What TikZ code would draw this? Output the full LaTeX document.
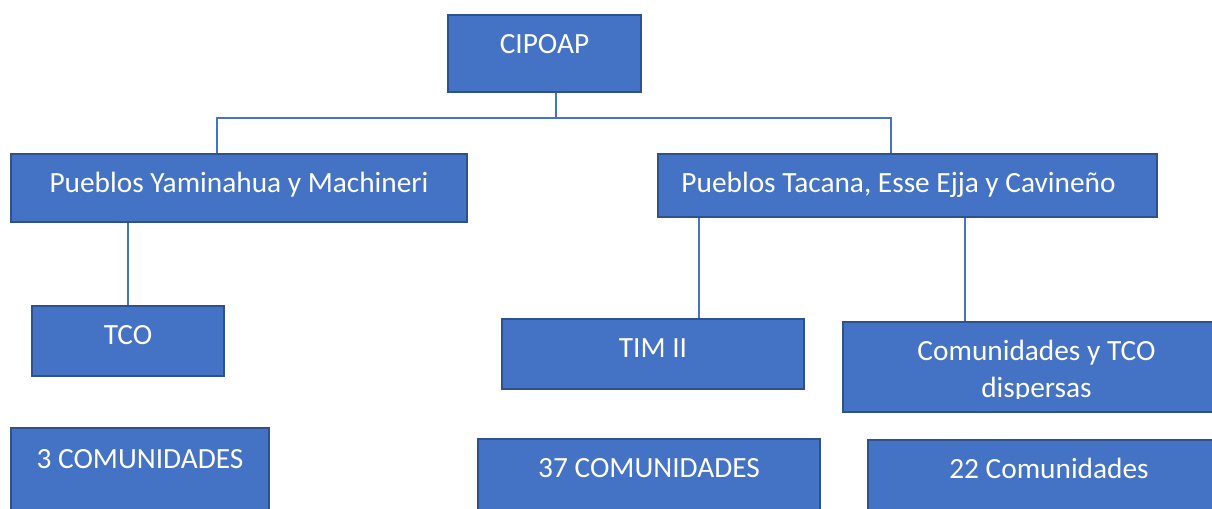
\documentclass[tikz,border=0pt]{standalone}
\usepackage{fontspec}
\setmainfont{Carlito}
\usetikzlibrary{calc}

\definecolor{boxfill}{HTML}{4472C4}
\definecolor{boxedge}{HTML}{2F528F}

\tikzset{
  box/.style={draw=boxedge, fill=boxfill, line width=1.8pt, inner sep=0pt},
  txt/.style={text=white, font=\fontsize{22}{28}\selectfont, inner sep=0pt, align=center, anchor=base},
  link/.style={draw=boxfill, line width=1pt}
}

\begin{document}
\begin{tikzpicture}[x=0.75pt, y=-0.75pt]

    % Fix the page to the size of the picture
    \useasboundingbox (0,0) rectangle (1212,508);
    \clip (0,0) rectangle (1212,508);

    % Top box
    \node[box, minimum width=144.75pt, minimum height=57.75pt] (cipoap) at (544.5,53.5) {};

    % Second row: the two groups of pueblos
    \node[box, minimum width=342pt, minimum height=51pt] (yami) at (239,188) {};
    \node[box, minimum width=374.25pt, minimum height=47.25pt] (tacana) at (907.5,185.5) {};

    % Third row: territories
    \node[box, minimum width=144pt, minimum height=52.5pt] (tco) at (128,341) {};
    \node[box, minimum width=226.5pt, minimum height=52.5pt] (tim) at (653,354) {};
    \node[box, minimum width=290.25pt, minimum height=67.5pt] (disp) at (1036.5,367) {};

    % Bottom row: number of communities (cut by the page edge)
    \node[box, minimum width=193.5pt, minimum height=84pt] (tres) at (140,484) {};
    \node[box, minimum width=256.5pt, minimum height=75.75pt] (treinta) at (649,489.5) {};
    \node[box, minimum width=271.5pt, minimum height=75pt] (veinte) at (1049,490) {};

    % Texts, set near the top edge of each box
    \node[txt] (cipoap-t) at ($(cipoap.north)+(0,40)$) {CIPOAP};
    \node[txt] (yami-t) at ($(yami.north)+(0,40)$) {Pueblos Yaminahua y Machineri};
    \node[txt] (tacana-t) at ($(tacana.north)+(-9,40)$) {Pueblos Tacana, Esse Ejja y Cavineño};
    \node[txt] (tco-t) at ($(tco.north)+(0,40)$) {TCO};
    \node[txt] (tim-t) at ($(tim.north)+(0,40)$) {TIM II};
    \node[txt] (tres-t) at ($(tres.north)+(0,42)$) {3 COMUNIDADES};
    \node[txt] (treinta-t) at ($(treinta.north)+(0,40)$) {37 COMUNIDADES};
    \node[txt] (veinte-t) at ($(veinte.north)+(0,40)$) {22 Comunidades};

    % The second line of this text is cut off by its box
    % (base anchor = baseline of the last line)
    \begin{scope}
        \clip (disp.north west) rectangle ($(disp.north east)+(0,78)$);
        \node[txt] (disp-t) at ($(disp.north)+(0,77)$) {Comunidades y TCO\\dispersas};
    \end{scope}

    % Connectors
    \coordinate (busM) at (556,118);
    \coordinate (busL) at (217,118);
    \coordinate (busR) at (891,118);
    \coordinate (legL) at (699,0);
    \coordinate (legR) at (965,0);

    \draw[link] (cipoap.south -| busM) -- (busM);
    \draw[link] (yami.north -| busL) -- (busL) -- (busR) -- (tacana.north -| busR);
    \draw[link] (yami.south -| tco.north) -- (tco.north);
    \draw[link] (tacana.south -| legL) -- (tim.north -| legL);
    \draw[link] (tacana.south -| legR) -- (disp.north -| legR);

\end{tikzpicture}
\end{document}
